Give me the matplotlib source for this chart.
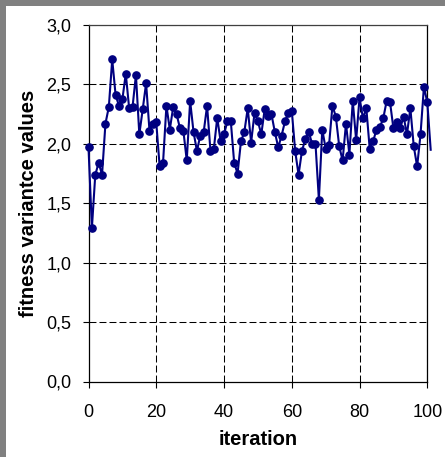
import numpy as np
import matplotlib
matplotlib.use("Agg")
import matplotlib.pyplot as plt
from matplotlib.patches import Rectangle
from matplotlib.ticker import FuncFormatter

# fitness variance per iteration
iteration = list(range(0, 102))
variance = [
    1.97, 1.29, 1.74, 1.84, 1.74, 2.17, 2.31, 2.71, 2.41, 2.32,
    2.375, 2.59, 2.30, 2.31, 2.58, 2.08, 2.29, 2.51, 2.11, 2.17,
    2.18, 1.81, 1.84, 2.32, 2.12, 2.31, 2.25, 2.13, 2.11, 1.86,
    2.36, 2.10, 1.94, 2.07, 2.10, 2.32, 1.94, 1.96, 2.22, 2.02,
    2.08, 2.19, 2.19, 1.84, 1.75, 2.02, 2.10, 2.30, 2.01, 2.26,
    2.19, 2.08, 2.29, 2.235, 2.25, 2.10, 1.97, 2.07, 2.19, 2.26,
    2.28, 1.94, 1.74, 1.94, 2.04, 2.10, 2.00, 2.00, 1.53, 2.12,
    1.96, 1.99, 2.32, 2.23, 1.98, 1.86, 2.17, 1.91, 2.36, 2.03,
    2.39, 2.215, 2.30, 1.96, 2.02, 2.12, 2.14, 2.215, 2.36, 2.35,
    2.13, 2.18, 2.13, 2.23, 2.08, 2.30, 1.98, 1.81, 2.08, 2.48,
    2.35, 1.95,
]
x_ticks = [0, 20, 40, 60, 80, 100]
y_ticks = [0.0, 0.5, 1.0, 1.5, 2.0, 2.5, 3.0]

plt.rcParams.update({
    "font.family": ["Liberation Sans", "DejaVu Sans"],
    "lines.scale_dashes": False})

W, H = 445, 457
fig = plt.figure(figsize=(W / 100, H / 100), dpi=100, facecolor="white")

# grey frame on left and top edge
fig.patches.append(Rectangle((0, 0), 6 / W, 1, transform=fig.transFigure,
                             facecolor="#808080", edgecolor="none"))
fig.patches.append(Rectangle((0, 1 - 6 / H), 1, 6 / H, transform=fig.transFigure,
                             facecolor="#808080", edgecolor="none"))

ax = fig.add_axes([88.5 / W, 1 - 381.5 / H, (427.3 - 88.5) / W, (381.5 - 25) / H])
ax.set_xlim(0, 100)
ax.set_ylim(0, 3)
ax.set_xticks(x_ticks)
ax.set_yticks(y_ticks)
ax.yaxis.set_major_formatter(FuncFormatter(lambda v, p: ("%.1f" % v).replace(".", ",")))

for g in x_ticks[1:]:
    ax.axvline(g, color="black", lw=0.75, dashes=(5, 2.2), zorder=1)
for g in y_ticks[1:]:
    ax.axhline(g, color="black", lw=0.75, dashes=(5, 2.2), zorder=1)

ax.plot(iteration, variance, color="#000080", lw=1.5, marker="o", ms=5.2,
        markevery=slice(0, 101), clip_on=False, zorder=3)

for s in ax.spines.values():
    s.set_color("black")
    s.set_linewidth(0.9)
ax.spines["top"].set_color("#404040")

ax.tick_params(axis="both", direction="out", length=4.5, width=0.8, labelsize=13)
ax.tick_params(axis="y", pad=8)
ax.tick_params(axis="x", pad=12)

ax.set_xlabel("iteration", fontsize=14.5, fontweight="bold", labelpad=6)
ax.set_ylabel("fitness variantce values", fontsize=14.5, fontweight="bold", labelpad=6)

fig.savefig("out.png", dpi=100, facecolor="white")
